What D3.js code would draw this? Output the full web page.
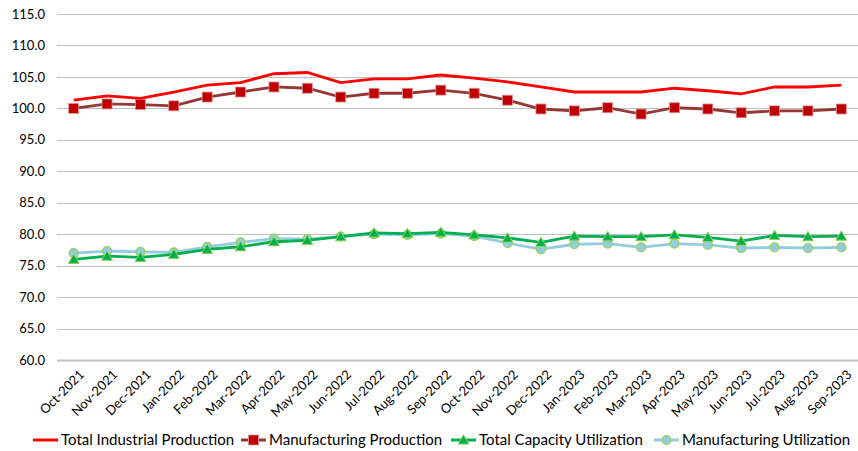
<!DOCTYPE html>
<html>
<head>
<meta charset="utf-8">
<title>Production and Utilization</title>
<style>
  body { margin: 0; background: #fff; }
  svg text { font-family: Lato, "Open Sans", sans-serif; fill: #000; }
  .axis text { font-size: 13px; }
  .grid line { stroke: #bfbfbf; stroke-width: 1; }
  .legend text { font-size: 15px; }
</style>
</head>
<body>
<script src="https://cdn.jsdelivr.net/npm/d3@7"></script>
<script>
// months on the x axis
var months = ["Oct-2021","Nov-2021","Dec-2021","Jan-2022","Feb-2022","Mar-2022","Apr-2022","May-2022",
  "Jun-2022","Jul-2022","Aug-2022","Sep-2022","Oct-2022","Nov-2022","Dec-2022","Jan-2023","Feb-2023",
  "Mar-2023","Apr-2023","May-2023","Jun-2023","Jul-2023","Aug-2023","Sep-2023"];

var totalIndustrial = [101.3,102.0,101.6,102.6,103.7,104.1,105.5,105.7,104.1,104.7,104.7,105.3,
  104.8,104.2,103.4,102.6,102.6,102.6,103.2,102.8,102.3,103.4,103.4,103.7];
var manufProduction = [100.0,100.7,100.6,100.4,101.8,102.6,103.4,103.2,101.8,102.4,102.4,102.9,
  102.4,101.3,99.9,99.6,100.1,99.1,100.1,99.9,99.3,99.6,99.6,99.9];
var totalCapacity = [76.0,76.5,76.3,76.8,77.6,78.0,78.8,79.0,79.6,80.2,80.1,80.3,
  79.9,79.4,78.7,79.7,79.6,79.6,79.9,79.5,78.9,79.8,79.6,79.7];
var manufUtil = [77.0,77.3,77.2,77.1,78.0,78.7,79.3,79.2,79.6,80.0,79.9,80.1,
  79.7,78.6,77.6,78.4,78.5,77.9,78.5,78.3,77.8,77.9,77.8,77.9];

var yTicks = [60,65,70,75,80,85,90,95,100,105,110,115];

var width = 858, height = 451;
var padding = {left: 57, right: 0, top: 14, bottom: 91};

var svg = d3.select("body").append("svg")
  .attr("width", width)
  .attr("height", height);

var xScale = d3.scaleBand()
  .domain(months)
  .range([padding.left, width - padding.right]);
var yScale = d3.scaleLinear()
  .domain([60, 115])
  .range([height - padding.bottom, padding.top]);

function cx(d, i) { return xScale(months[i]) + xScale.bandwidth() / 2; }

// gridlines
svg.append("g")
  .attr("class", "grid")
  .selectAll("line")
  .data(yTicks)
  .enter().append("line")
  .attr("x1", padding.left)
  .attr("x2", width - padding.right)
  .attr("y1", function(d){ return Math.round(yScale(d)) + 0.5; })
  .attr("y2", function(d){ return Math.round(yScale(d)) + 0.5; })
  .style("stroke-width", function(d){ return d === 60 ? 2 : 1; });

// y axis labels
var yAxis = d3.axisLeft(yScale)
  .tickValues(yTicks)
  .tickFormat(d3.format(".1f"))
  .tickSize(0)
  .tickPadding(12);
var gy = svg.append("g")
  .attr("class", "axis")
  .attr("transform", "translate(" + padding.left + ",0)")
  .call(yAxis);
gy.select(".domain").remove();

// x axis labels, rotated
var xAxis = d3.axisBottom(xScale).tickSize(0);
var gx = svg.append("g")
  .attr("class", "axis")
  .attr("transform", "translate(0," + (height - padding.bottom) + ")")
  .call(xAxis);
gx.select(".domain").remove();
gx.selectAll("text")
  .attr("text-anchor", "end")
  .attr("dy", "0.35em")
  .attr("transform", "translate(6,10) rotate(-45)");

var series = [
  {name: "Total Industrial Production", values: totalIndustrial, color: "#ff0000", marker: "none"},
  {name: "Manufacturing Production", values: manufProduction, color: "#953735", marker: "square"},
  {name: "Total Capacity Utilization", values: totalCapacity, color: "#00b050", marker: "triangle"},
  {name: "Manufacturing Utilization", values: manufUtil, color: "#93cddd", marker: "circle"}
];

var line = d3.line()
  .x(cx)
  .y(function(d){ return yScale(d); });

function drawMarker(g, type, x, y) {
  if (type === "square") {
    g.append("rect")
      .attr("x", x - 5).attr("y", y - 5)
      .attr("width", 10).attr("height", 10)
      .attr("fill", "#c00000")
      .attr("stroke", "#d9959a").attr("stroke-width", 0.8);
  } else if (type === "triangle") {
    g.append("path")
      .attr("d", d3.symbol().type(d3.symbolTriangle).size(50)())
      .attr("transform", "translate(" + x + "," + (y + 1) + ")")
      .attr("fill", "#00b050")
      .attr("stroke", "#92d050").attr("stroke-width", 1);
  } else if (type === "circle") {
    g.append("circle")
      .attr("cx", x).attr("cy", y).attr("r", 4.5)
      .attr("fill", "#93cddd")
      .attr("stroke", "#92d050").attr("stroke-width", 1.2);
  }
}

// draw in reverse so the first series sits on top
series.slice().reverse().forEach(function(s){
  var g = svg.append("g");
  g.append("path")
    .datum(s.values)
    .attr("fill", "none")
    .attr("stroke", s.color)
    .attr("stroke-width", 2.8)
    .attr("d", line);
  if (s.marker !== "none") {
    s.values.forEach(function(v, i){
      drawMarker(g, s.marker, cx(v, i), yScale(v));
    });
  }
});

// legend
var legendX = [33, 241, 451, 654];
var legend = svg.append("g").attr("class", "legend");
series.forEach(function(s, i){
  var g = legend.append("g").attr("transform", "translate(" + legendX[i] + ",440)");
  g.append("line")
    .attr("x1", 0).attr("x2", 25)
    .attr("stroke", s.color).attr("stroke-width", 3);
  drawMarker(g, s.marker, 12.5, 0);
  g.append("text")
    .attr("x", 28)
    .attr("dy", "0.35em")
    .text(s.name);
});
</script>
</body>
</html>
